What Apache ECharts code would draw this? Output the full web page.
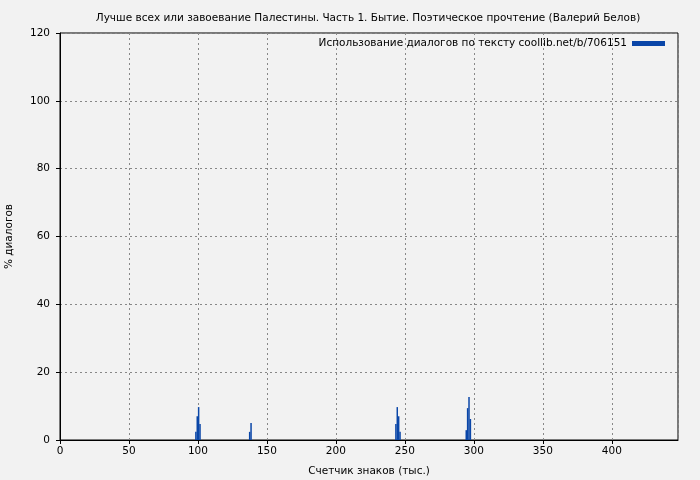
<!DOCTYPE html>
<html>
<head>
<meta charset="utf-8">
<script src="https://cdn.jsdelivr.net/npm/echarts@6/dist/echarts.min.js"></script>
<style>
html,body{margin:0;padding:0;background:#f2f2f2;}
#c{width:700px;height:480px;}
</style>
</head>
<body>
<div id="c"></div>
<script>
const titleText = "Лучше всех или завоевание Палестины. Часть 1. Бытие. Поэтическое прочтение (Валерий Белов)";
const seriesName = "Использование диалогов по тексту coollib.net/b/706151";
const xAxisName = "Счетчик знаков (тыс.)";
const yAxisName = "% диалогов";
const positions = [98.5, 99.5, 100.5, 101.5, 137.5, 138.5, 243.5, 244.5, 245.5, 246.5, 294.5, 295.5, 296.5, 297.5];
const values    = [2.4, 7.0, 9.7, 4.7, 2.4, 5.0, 4.7, 9.7, 7.0, 2.4, 2.9, 9.4, 12.7, 6.2];
const xMin = 0, xMax = 448, xStep = 50;
const yMin = 0, yMax = 120, yStep = 20;

const chart = echarts.init(document.getElementById('c'), null, {renderer: 'canvas'});
const font = "DejaVu Sans";
const fs = 10.5;
chart.setOption({
  backgroundColor: '#f2f2f2',
  animation: false,
  textStyle: {fontFamily: font},
  title: {
    text: titleText,
    left: 363, top: 8, textAlign: 'center',
    textStyle: {fontFamily: font, fontSize: fs, fontWeight: 'normal', color: '#000'}
  },
  legend: {
    data: [seriesName],
    right: 30, top: 33,
    align: 'right',
    itemWidth: 33, itemHeight: 5, itemGap: 6,
    icon: 'rect',
    textStyle: {fontFamily: font, fontSize: fs, color: '#000'}
  },
  grid: {left: 60, top: 33, right: 22, bottom: 40, containLabel: false, outerBoundsMode: 'none',
         show: true, borderColor: '#000', borderWidth: 1, backgroundColor: 'transparent'},
  xAxis: {
    type: 'value', min: xMin, max: xMax, interval: xStep,
    name: xAxisName, nameLocation: 'middle', nameGap: 26,
    nameTextStyle: {fontFamily: font, fontSize: fs, color: '#000'},
    axisLine: {show: true, lineStyle: {color: '#000'}},
    axisTick: {show: true, length: 4, lineStyle: {color: '#000'}},
    axisLabel: {showMaxLabel: false, fontFamily: font, fontSize: fs, color: '#000', margin: 6},
    splitLine: {show: true, lineStyle: {color: '#888', type: [2, 3], width: 1}}
  },
  yAxis: {
    type: 'value', min: yMin, max: yMax, interval: yStep,
    name: yAxisName, nameLocation: 'middle', nameGap: 45, nameRotate: 90,
    nameTextStyle: {fontFamily: font, fontSize: fs, color: '#000'},
    axisLine: {show: true, lineStyle: {color: '#000'}},
    axisTick: {show: true, length: 4, lineStyle: {color: '#000'}},
    axisLabel: {fontFamily: font, fontSize: fs, color: '#000', margin: 10},
    splitLine: {show: true, lineStyle: {color: '#888', type: [2, 3], width: 1}}
  },
  series: [{
    name: seriesName,
    type: 'bar',
    barWidth: 1.5,
    itemStyle: {color: '#0a46a8'},
    data: positions.map((p, i) => [p, values[i]])
  }]
});
</script>
</body>
</html>
